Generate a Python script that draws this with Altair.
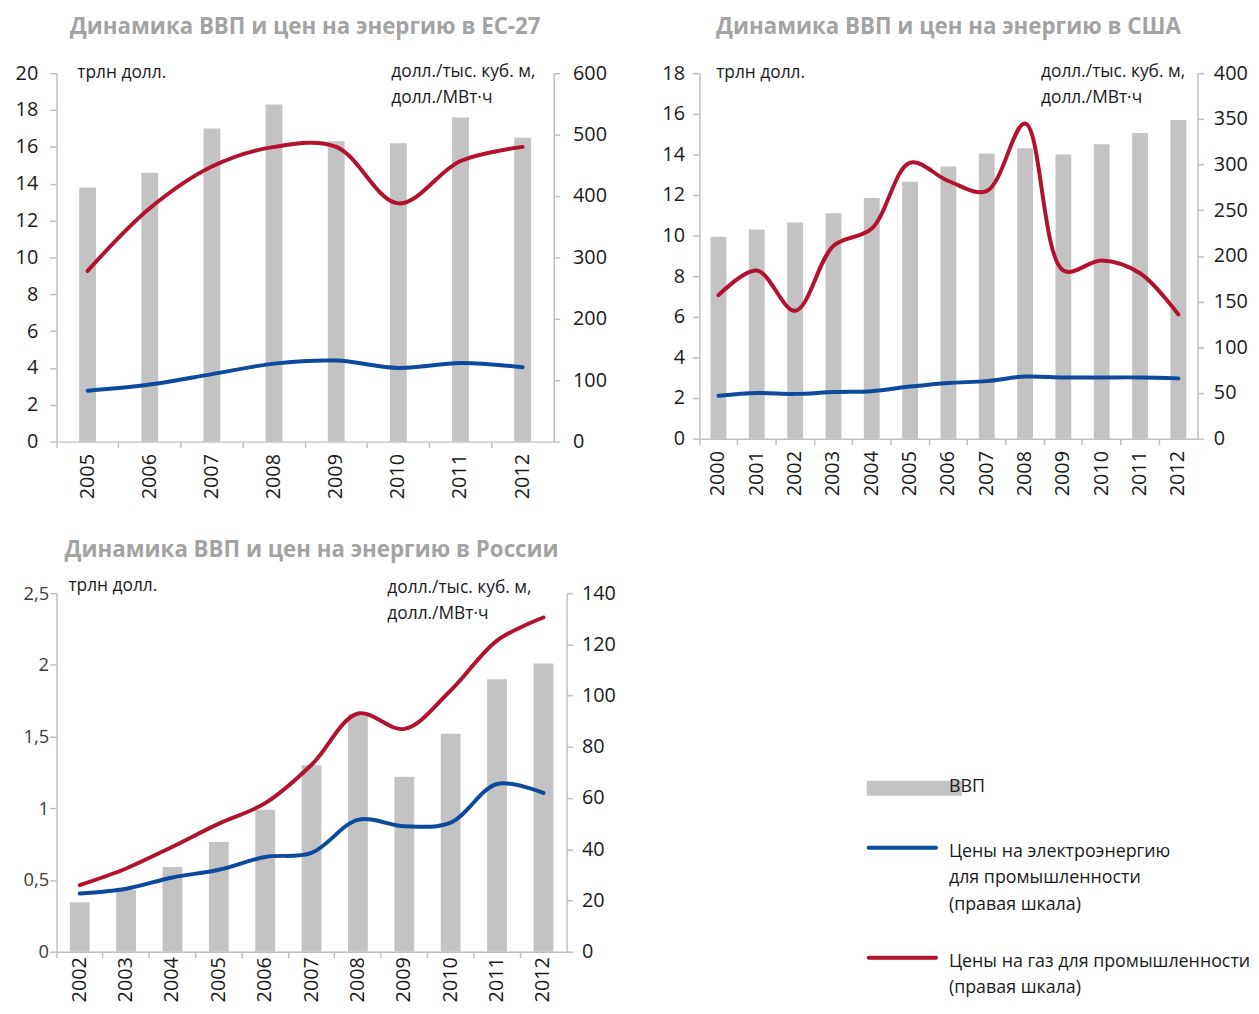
import altair as alt
import pandas as pd

# ---------------- data ----------------
eu_years = ["2005", "2006", "2007", "2008", "2009", "2010", "2011", "2012"]
eu_gdp = [13.8, 14.6, 17.0, 18.3, 16.3, 16.2, 17.6, 16.5]
eu_elec = [83, 93, 110, 127, 132, 120, 128, 121]
eu_gas = [278, 380, 448, 480, 480, 388, 457, 480]

us_years = ["2000", "2001", "2002", "2003", "2004", "2005", "2006", "2007",
            "2008", "2009", "2010", "2011", "2012"]
us_gdp = [9.95, 10.3, 10.65, 11.1, 11.85, 12.65, 13.4, 14.05, 14.3, 14.0, 14.5, 15.05, 15.7]
us_elec = [47, 50, 49, 51, 52, 57, 61, 63, 68, 67, 67, 67, 66]
us_gas = [157, 184, 140, 211, 230, 302, 282, 271, 345, 184, 195, 181, 136]

ru_years = ["2002", "2003", "2004", "2005", "2006", "2007", "2008", "2009",
            "2010", "2011", "2012"]
ru_gdp = [0.345, 0.43, 0.59, 0.765, 0.99, 1.30, 1.66, 1.22, 1.52, 1.90, 2.01]
ru_elec = [22.7, 24.6, 29, 32, 37, 38.6, 51.5, 49, 50.4, 65.5, 62]
ru_gas = [26, 32.5, 41, 50, 58, 73, 93, 87, 102, 121.5, 130.5]

titles = ["Динамика ВВП и цен на энергию в ЕС-27",
          "Динамика ВВП и цен на энергию в США",
          "Динамика ВВП и цен на энергию в России"]
unit_left = "трлн долл."
unit_right = "долл./тыс. куб. м,\nдолл./МВт·ч"

legend_labels = ["ВВП",
                 "Цены на электроэнергию\nдля промышленности\n(правая шкала)",
                 "Цены на газ для промышленности\n(правая шкала)"]

BAR = "#c3c3c3"
BLUE = "#0b4a9c"
RED = "#b2112f"
RU_RED = "#8a2341"
FONT = "Open Sans"
TXT = "#1a1a1a"


def panel(years, gdp, elec, gas, title, lmax, lstep, rmax, rstep, w, h,
          bar_size, gas_color, left_expr=None, left_font=FONT,
          left_color=TXT, left_size=20, left_pad=12, right_pad=13, x_pad=12,
          title_offset=24, txt_left=(15, 0), txt_right=(338, 0), legend=False):
    bars_df = pd.DataFrame({"year": years, "gdp": gdp})
    lines_df = pd.DataFrame({
        "year": years * 2,
        "value": list(elec) + list(gas),
        "series": ["elec"] * len(years) + ["gas"] * len(years),
    })
    xscale = alt.Scale(domain=years, paddingInner=0, paddingOuter=0)
    lvals = [round(i * lstep, 4) for i in range(int(round(lmax / lstep)) + 1)]
    rvals = [i * rstep for i in range(int(round(rmax / rstep)) + 1)]

    laxis = dict(values=lvals, orient="left", title=None, grid=False,
                 labelFont=left_font, labelColor=left_color,
                 labelFontSize=left_size, labelPadding=left_pad, tickSize=7)
    if left_expr:
        laxis["labelExpr"] = left_expr
    bars = alt.Chart(bars_df).mark_bar(size=bar_size, color=BAR).encode(
        x=alt.X("year:O", scale=xscale,
                axis=alt.Axis(title=None, labels=False, bandPosition=0,
                              tickSize=6, orient="bottom")),
        y=alt.Y("gdp:Q", scale=alt.Scale(domain=[0, lmax], nice=False),
                axis=alt.Axis(**laxis)),
    )
    lines = alt.Chart(lines_df).mark_line(
        interpolate="catmull-rom", strokeWidth=4, strokeCap="round"
    ).encode(
        x=alt.X("year:O", scale=xscale,
                axis=alt.Axis(title=None, ticks=False, domain=False,
                              labelAngle=270, labelPadding=x_pad,
                              orient="bottom")),
        y=alt.Y("value:Q", scale=alt.Scale(domain=[0, rmax], nice=False),
                axis=alt.Axis(values=rvals, orient="right", title=None,
                              grid=False, labelPadding=right_pad)),
        color=alt.Color("series:N",
                        scale=alt.Scale(domain=["elec", "gas"],
                                        range=[BLUE, gas_color]),
                        legend=None),
        detail="series:N",
    )
    tl = alt.Chart(pd.DataFrame({"t": [unit_left]})).mark_text(
        align="left", baseline="middle", fontSize=17.5, font=FONT, color=TXT
    ).encode(text="t:N", x=alt.value(txt_left[0]), y=alt.value(txt_left[1]))
    tr = alt.Chart(pd.DataFrame({"t": [unit_right]})).mark_text(
        align="left", baseline="top", fontSize=17.5, font=FONT, color=TXT,
        lineBreak="\n", lineHeight=26
    ).encode(text="t:N", x=alt.value(txt_right[0]), y=alt.value(txt_right[1] - 10))
    layers = [bars, lines, tl, tr]
    if legend:
        ldf = pd.DataFrame({"label": legend_labels,
                            "kind": ["bar", "elec", "gas"]})
        base = alt.Chart(ldf)
        sw_bar = base.transform_filter("datum.kind == 'bar'").mark_rule(
            strokeWidth=15, color=BAR
        ).encode(x=alt.value(818), x2=alt.value(914), y=alt.value(197))
        sw_e = base.transform_filter("datum.kind == 'elec'").mark_rule(
            strokeWidth=4, color=BLUE, strokeCap="round"
        ).encode(x=alt.value(820), x2=alt.value(888), y=alt.value(257))
        sw_g = base.transform_filter("datum.kind == 'gas'").mark_rule(
            strokeWidth=4, color=RED, strokeCap="round"
        ).encode(x=alt.value(820), x2=alt.value(888), y=alt.value(368))
        layers += [sw_bar, sw_e, sw_g]
        for kind, yc in (("bar", 197), ("elec", 262), ("gas", 373)):
            layers.append(
                base.transform_filter(f"datum.kind == '{kind}'").mark_text(
                    align="left", baseline="top", fontSize=18, font=FONT,
                    color=TXT, lineBreak="\n", lineHeight=27
                ).encode(text="label:N", x=alt.value(901), y=alt.value(yc - 10))
            )
    return alt.layer(*layers).resolve_scale(y="independent").resolve_axis(
        x="independent").properties(
        width=w, height=h,
        title=alt.TitleParams(title, fontSize=22.5, font=FONT, fontWeight="bold",
                              color="#a3a3a3", anchor="middle", frame="group",
                              offset=title_offset),
    )


eu = panel(eu_years, eu_gdp, eu_elec, eu_gas, titles[0], 20, 2, 600, 100,
           502, 372, 17, RED, left_pad=12, right_pad=13, title_offset=25,
           txt_left=(21, 0), txt_right=(338, 0))
us = panel(us_years, us_gdp, us_elec, us_gas, titles[1], 18, 2, 400, 50,
           503, 369, 16, RED, left_pad=8, right_pad=10, title_offset=25,
           txt_left=(17, 0), txt_right=(345, 0))
ru = panel(ru_years, ru_gdp, ru_elec, ru_gas, titles[2], 2.5, 0.5, 140, 20,
           515, 362, 20, RU_RED,
           left_expr="replace(toString(datum.value), '.', ',')",
           left_font=FONT, left_size=18.5,
           left_color="#3a3a3a", left_pad=1, right_pad=9, x_pad=5,
           title_offset=16, txt_left=(12, -7), txt_right=(334, -4),
           legend=True)

chart = alt.vconcat(
    alt.hconcat(eu, us, spacing=55),
    alt.hconcat(ru),
    spacing=40,
).configure_view(stroke=None).configure_axis(
    domainColor="#bfbfbf", tickColor="#bfbfbf", labelColor=TXT,
    labelFontSize=20, labelFont=FONT, tickSize=6, domainWidth=1.5,
    tickWidth=1.5,
).properties(padding={"left": 7, "top": 3, "right": 0, "bottom": 0})

chart.save("out.html", embed_options={"renderer": "svg", "actions": False})
